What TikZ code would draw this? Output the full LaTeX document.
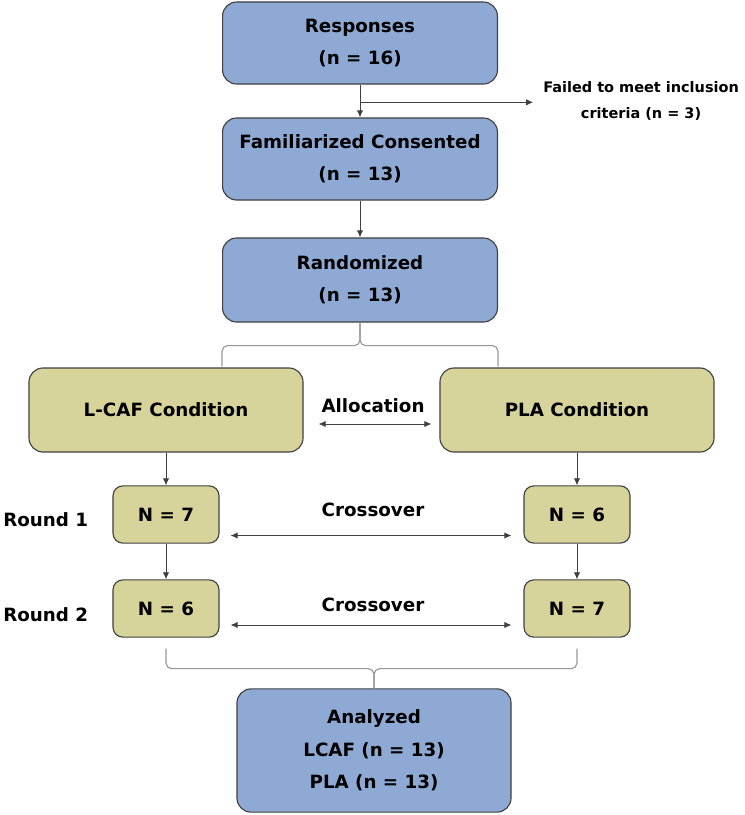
\documentclass[tikz,border=0pt]{standalone}
\usepackage{fontspec}
\setmainfont{DejaVu Sans}
\usetikzlibrary{arrows.meta,calc}
\definecolor{boxblue}{RGB}{142,170,212}
\definecolor{boxolive}{RGB}{214,211,155}
\definecolor{edgegray}{RGB}{64,64,64}
\definecolor{bracegray}{RGB}{150,150,150}

\begin{document}
\begin{tikzpicture}[>={Latex[length=5pt,width=4.5pt]}, x=0.025cm, y=-0.025cm,
    txt/.style={font=\fontsize{13}{23}\selectfont\bfseries, align=center, inner sep=0pt},
    bluebox/.style={txt, draw=edgegray, line width=0.8pt, fill=boxblue, rounded corners=10pt, minimum width=6.87cm, minimum height=2.05cm},
    olivebox/.style={txt, draw=edgegray, line width=0.8pt, fill=boxolive, rounded corners=10pt, minimum width=6.85cm, minimum height=2.1cm},
    nbox/.style={olivebox, rounded corners=7pt, minimum width=2.65cm, minimum height=1.43cm},
    link/.style={draw=edgegray, line width=0.6pt},
    brace/.style={draw=bracegray, line width=0.8pt, rounded corners=4pt}]
    \useasboundingbox (0,0) rectangle (744,815);

    % 1. Enrolment boxes
    \node[bluebox] (resp) at (360,43) {Responses\\(n = 16)};
    \node[bluebox] (fam) at (360,159) {Familiarized Consented\\(n = 13)};
    \node[bluebox, minimum height=2.1cm] (rand) at (360,280) {Randomized\\(n = 13)};

    % Excluded
    \node[txt, font=\fontsize{10.3}{18.4}\selectfont\bfseries, anchor=west] (fail) at (543,101) {Failed to meet inclusion\\criteria (n = 3)};
    \coordinate (split) at ($(resp.south)!0.54!(fam.north)$);
    \draw[link,->] (resp) -- (fam);
    \draw[link,->] (split) -- (split -| fail.west) [shorten >=7pt];
    \draw[link,->] (fam) -- (rand);

    % 2. Allocation
    \node[olivebox] (lcaf) at (166,410) {L-CAF Condition};
    \node[olivebox] (pla) at (577,410) {PLA Condition};
    \node[txt] (alloc) at (373,406) {Allocation};
    \draw[link,<->] ($(lcaf.east)+(15,14)$) -- ($(pla.west)+(-8,14)$);

    % brace under Randomized
    \draw[brace] (rand.south) -- ++(0,23) -| ($(lcaf.north -| rand.south west)+(0,-1)$);
    \draw[brace] (rand.south) -- ++(0,23) -| ($(pla.north -| rand.south east)+(0,-1)$);

    % 3. Crossover rounds
    \node[nbox] (r1l) at (166,514.5) {N = 7};
    \node[nbox] (r2l) at (166,608.5) {N = 6};
    \node[nbox] (r1r) at (577,514.5) {N = 6};
    \node[nbox] (r2r) at (577,608.5) {N = 7};
    \node[txt, anchor=west] (round1) at (3,520) {Round 1};
    \node[txt, anchor=west] (round2) at (3,615) {Round 2};
    \node[txt] (cross1) at (373,510) {Crossover};
    \node[txt] (cross2) at (373,605) {Crossover};

    \draw[link,->] (lcaf) -- (r1l);
    \draw[link,->] (r1l) -- (r2l);
    \draw[link,->] (pla) -- (r1r);
    \draw[link,->] (r1r) -- (r2r);
    \draw[link,<->] ($(r1l.east)+(11,21)$) -- ($(r1r.west)+(-12,21)$);
    \draw[link,<->] ($(r2l.east)+(11,16.5)$) -- ($(r2r.west)+(-12,16.5)$);

    % 4. Analysis
    \node[bluebox, minimum width=6.85cm, minimum height=3.08cm] (ana) at (374,750.5) {Analyzed\\LCAF (n = 13)\\PLA (n = 13)};
    \coordinate (bl) at ($(r2l.south)+(0,11)$);
    \coordinate (br) at ($(r2r.south)+(0,11)$);
    \draw[brace] (bl) -- ++(0,20) -| (ana.north);
    \draw[brace] (br) -- ++(0,20) -| (ana.north);

\end{tikzpicture}
\end{document}
